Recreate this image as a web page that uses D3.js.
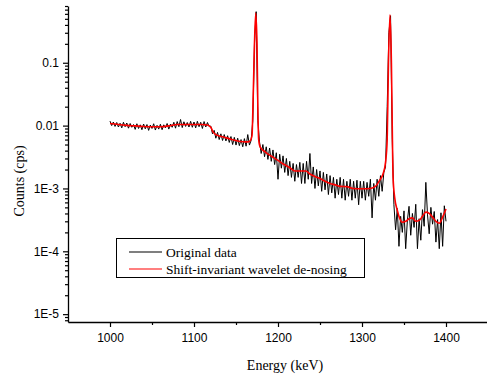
<!DOCTYPE html>
<html>
<head>
<meta charset="utf-8">
<script src="https://cdn.jsdelivr.net/npm/d3@7"></script>
<style>
  html, body { margin: 0; padding: 0; background: #fff; }
  svg { display: block; }
</style>
</head>
<body>
<svg id="chart" width="487" height="374"></svg>
<script>
// ---------------- data ----------------
const energyStart = 1000, energyEnd = 1400, energyStep = 2;
const originalEnergy = d3.range(energyStart, energyEnd + 1, energyStep);
const originalCounts = [
  // 1000-1118
  .0118,.0100,.0114,.0097,.0112,.0095,.0109,.0092,.0113,.0096,
  .0110,.0091,.0108,.0094,.0104,.0087,.0107,.0090,.0103,.0086,
  .0106,.0089,.0104,.0084,.0102,.0090,.0107,.0085,.0101,.0088,
  .0105,.0086,.0103,.0092,.0108,.0088,.0106,.0094,.0113,.0091,
  .0116,.0096,.0125,.0093,.0115,.0097,.0112,.0095,.0117,.0094,
  .0114,.0092,.0117,.0096,.0113,.0090,.0116,.0095,.0112,.0097,
  // 1120-1168
  .0098,.0074,.0084,.0063,.0078,.0060,.0074,.0058,.0072,.0057,
  .0069,.0054,.0067,.0050,.0065,.0049,.0063,.0048,.0060,.0046,
  .0062,.0047,.0072,.0049,.0058,
  // 1170-1176 (peak)
  .0120,.20,.65,.012,
  // 1178-1328
  .0055,.0036,.0050,.0032,.0046,.0029,.0044,.0027,.0041,.0024,
  .0037,.0014,.0035,.0021,.0033,.0018,.0030,.0016,.0027,.0015,
  .0025,.0013,.0024,.0015,.0026,.0012,.0025,.0012,.0027,.0014,
  .0036,.0012,.0022,.0010,.0020,.0011,.0019,.0009,.0018,.00095,
  .0017,.0008,.0016,.00085,.0015,.0007,.0014,.0008,.0015,.0007,
  .0014,.00065,.0013,.00075,.0014,.00065,.0013,.0007,.00135,.00055,
  .0013,.0007,.0013,.00065,.00125,.00075,.0014,.00034,.0012,.00065,
  .0014,.00075,.0016,.0009,.0018,.0022,
  // 1330-1336 (peak)
  .020,.30,.56,.006,
  // 1338-1400
  .00055,.00022,.00048,.00012,.00036,.00020,.00044,.00011,.00031,.00052,
  .00018,.00040,.00024,.00056,.00011,.00033,.00015,.00046,.00025,.00125,
  .00038,.00019,.00050,.00027,.00043,.00014,.00032,.00011,.00041,.00012,
  .00053,.00030
];

const denoisedEnergy = [1000,1010,1020,1030,1040,1050,1060,1070,1080,1090,1100,1110,1116,
  1120,1123,1128,1135,1145,1155,1162,1166,1169,1170.5,
  1172,1173.5,1175,1176,1177,1179,
  1185,1190,1195,1200,1205,1210,1215,1220,1226,1233,
  1238,1244,1250,1256,1262,1268,1274,1282,1289,1300,
  1310,1316,1321,1325,1328,1330,1331.5,1333.3,1335,1336,1337,
  1339,1342,1345,1348,1352,1356,1360,1364,1368,1372,
  1376,1380,1384,1388,1392,1396,1400];
const denoisedCounts = [.0108,.0104,.0101,.0099,.0097,.0096,.0096,.0099,.0104,.0104,.0104,.0104,.0102,
  .0094,.0078,.0070,.0066,.0060,.0056,.0055,.0056,.0068,.03,
  .2,.62,.2,.02,.006,.0045,
  .0038,.0034,.0031,.0028,.0025,.0023,.0021,.0019,.0019,.0019,
  .0017,.00155,.00144,.0013,.0012,.00114,.00108,.00107,.0010,.00099,
  .001,.00108,.00134,.0017,.0026,.006,.1,.58,.1,.01,.0015,
  .0007,.00045,.00033,.00029,.0003,.00033,.00034,.0003,.00031,.00036,
  .00042,.0004,.00035,.0003,.00028,.00035,.00047];

const xTickValues = [1000, 1100, 1200, 1300, 1400];
const xMinorTickValues = [1050, 1150, 1250, 1350, 1450];
const yTickValues = [0.1, 0.01, 1e-3, 1e-4, 1e-5];
const yTickLabels = ["0.1", "0.01", "1E-3", "1E-4", "1E-5"];
const seriesNames = ["Original data", "Shift-invariant wavelet de-nosing"];
const seriesColors = ["#000000", "#ff0000"];

// ---------------- layout ----------------
const SANS = "Liberation Sans, Arimo, Arial, sans-serif";
const SERIF = "Liberation Serif, DejaVu Serif, Tinos, Times New Roman, serif";
const svg = d3.select("#chart");
const x = d3.scaleLinear().domain([950, 1450]).range([68, 488]);
const y = d3.scaleLog().domain([7.5e-6, 0.8]).range([322, 6]);

// minor log ticks
const yMinor = [];
[-6, -5, -4, -3, -2, -1].forEach(e => {
  for (let m = 2; m <= 9; m++) {
    const v = m * Math.pow(10, e);
    if (v >= 7.5e-6 && v <= 0.8) yMinor.push(v);
  }
});

// ---------------- lines ----------------
svg.append("path")
  .datum(originalEnergy.map((e, i) => [e, originalCounts[i]]))
  .attr("d", d3.line().x(d => x(d[0])).y(d => y(d[1])))
  .attr("fill", "none")
  .attr("stroke", seriesColors[0])
  .attr("stroke-width", 1);

svg.append("path")
  .datum(denoisedEnergy.map((e, i) => [e, denoisedCounts[i]]))
  .attr("d", d3.line().x(d => x(d[0])).y(d => y(d[1])).curve(d3.curveMonotoneX))
  .attr("fill", "none")
  .attr("stroke", seriesColors[1])
  .attr("stroke-width", 1.6);

// ---------------- axes ----------------
const gx = svg.append("g").attr("transform", "translate(0,322)");
gx.call(d3.axisBottom(x).tickValues(xTickValues).tickSize(5).tickSizeOuter(0).tickPadding(6).tickFormat(d3.format("d")));
gx.append("g").call(d3.axisBottom(x).tickValues(xMinorTickValues).tickSize(3).tickFormat(""));
gx.attr("font-family", SANS).attr("font-size", 12);
gx.selectAll(".domain").attr("stroke", "#000").attr("stroke-width", 1.3);
gx.selectAll("g > g > .domain").remove();
gx.selectAll("line").attr("stroke", "#000").attr("stroke-width", 1.2);
gx.selectAll("text").attr("font-family", SANS).attr("font-size", 12).attr("fill", "#000");

const gy = svg.append("g").attr("transform", "translate(68,0)");
gy.call(d3.axisLeft(y).tickValues(yTickValues).tickSize(5).tickSizeOuter(0).tickPadding(4)
  .tickFormat((d, i) => yTickLabels[i]));
gy.append("g").call(d3.axisLeft(y).tickValues(yMinor).tickSize(3).tickFormat(""));
gy.attr("font-family", SANS).attr("font-size", 12);
gy.selectAll(".domain").attr("stroke", "#000").attr("stroke-width", 1.3);
gy.selectAll("g > g > .domain").remove();
gy.selectAll("line").attr("stroke", "#000").attr("stroke-width", 1.2);
gy.selectAll("text").attr("font-family", SANS).attr("font-size", 12).attr("fill", "#000");

// axis titles
svg.append("text")
  .attr("font-family", SERIF)
  .attr("font-size", 14)
  .attr("x", 285).attr("y", 370)
  .attr("text-anchor", "middle")
  .text("Energy (keV)");
svg.append("text")
  .attr("font-family", SERIF)
  .attr("font-size", 14)
  .attr("transform", "translate(24,181) rotate(-90)")
  .attr("text-anchor", "middle")
  .text("Counts (cps)");

// ---------------- legend ----------------
const lg = svg.append("g");
lg.append("rect")
  .attr("x", 116.5).attr("y", 238.5).attr("width", 248).attr("height", 39)
  .attr("fill", "#fff").attr("stroke", "#000").attr("stroke-width", 1);
seriesNames.forEach((name, i) => {
  const yy = 252 + i * 17;
  lg.append("line")
    .attr("x1", 129).attr("x2", 162).attr("y1", yy).attr("y2", yy)
    .attr("stroke", seriesColors[i]).attr("stroke-width", 1.2);
  lg.append("text")
    .attr("font-family", SERIF)
    .attr("font-size", 13.5)
    .attr("x", 166).attr("y", yy + 4.5)
    .text(name);
});
</script>
</body>
</html>
